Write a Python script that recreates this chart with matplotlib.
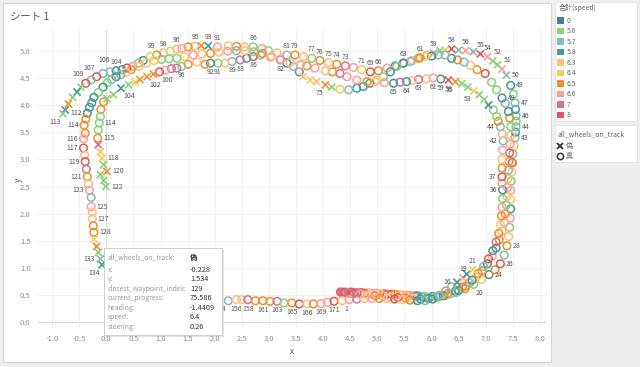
import matplotlib
matplotlib.use("Agg")
import matplotlib.pyplot as plt
from matplotlib.patches import Rectangle
from matplotlib.lines import Line2D

plt.rcParams['font.family'] = ['Noto Sans CJK JP', 'DejaVu Sans']

# speed legend (Tableau 10/20 palette)
speed_levels = [0, 5.6, 5.7, 5.8, 6.3, 6.4, 6.5, 6.6, 7, 8]
speed_labels = ['0', '5.6', '5.7', '5.8', '6.3', '6.4', '6.5', '6.6', '7', '8']
speed_colors = ['#4e79a7', '#8cd17d', '#86bcb6', '#499894', '#ffbe7d',
                '#f1ce63', '#f28e2b', '#ff9d9a', '#d37295', '#e15759']

# episodes: (x, y, speed, all_wheels_on_track[, waypoint label, label side])
ep1 = [
    (4.36, 0.55, 8, 1), (4.42, 0.55, 7, 1), (4.49, 0.55, 8, 1), (4.58, 0.55, 6.6, 1),
    (4.70, 0.55, 8, 1), (4.84, 0.55, 6.3, 1), (4.98, 0.54, 6.6, 1), (5.12, 0.53, 6.5, 1),
    (5.26, 0.52, 8, 1), (5.40, 0.51, 6.4, 1), (5.54, 0.50, 6.6, 1), (5.68, 0.49, 6.5, 1),
    (5.82, 0.47, 5.8, 1), (5.96, 0.46, 5.6, 1), (6.12, 0.47, 5.8, 1), (6.28, 0.50, 6.3, 1),
    (6.45, 0.55, 5.7, 1), (6.62, 0.62, 6.5, 1), (6.78, 0.70, 5.6, 1, '20', 'br'),
    (6.92, 0.79, 6.4, 1), (7.06, 0.88, 5.8, 1, '24', 'r'), (7.17, 0.97, 6.5, 1),
    (7.27, 1.08, 8, 1, '26', 'r'), (7.34, 1.24, 5.7, 1), (7.39, 1.41, 6.5, 1, '28', 'r'),
    (7.42, 1.58, 6.3, 1), (7.44, 1.75, 5.6, 1), (7.45, 1.92, 6.6, 1), (7.46, 2.09, 5.8, 1),
    (7.46, 2.26, 6.4, 1), (7.46, 2.43, 6.6, 1), (7.47, 2.60, 5.6, 1), (7.48, 2.77, 6.3, 1),
    (7.49, 2.94, 8, 1), (7.50, 3.10, 5.7, 1), (7.52, 3.25, 6.4, 1),
    (7.54, 3.40, 5.7, 1, '43', 'r'), (7.55, 3.50, 5.8, 1), (7.56, 3.60, 5.7, 1, '44', 'r'),
    (7.56, 3.70, 5.6, 1), (7.56, 3.80, 5.7, 1, '46', 'r'), (7.55, 3.92, 5.8, 1),
    (7.54, 4.04, 5.7, 1, '47', 'r'), (7.51, 4.20, 5.6, 1), (7.46, 4.36, 5.8, 1, '49', 'r'),
    (7.38, 4.55, 5.7, 0, '50', 'r'), (7.30, 4.66, 6.6, 0, '51', 'tr'), (7.22, 4.74, 5.6, 0),
    (7.13, 4.81, 5.6, 0, '52', 'tr'), (7.03, 4.89, 6.6, 0, '54', 't'), (6.90, 4.94, 8, 0, '55', 't'),
    (6.77, 4.98, 5.7, 0), (6.63, 5.00, 6.6, 0, '56', 't'), (6.50, 5.01, 5.7, 0),
    (6.37, 5.03, 8, 0, '58', 't'), (6.25, 5.01, 6.4, 0), (6.16, 5.00, 5.6, 0),
    (6.04, 4.96, 6.6, 0, '59', 't'), (5.92, 4.92, 6.3, 1), (5.79, 4.87, 6.5, 1, '61', 't'),
    (5.64, 4.82, 6.3, 1), (5.48, 4.77, 8, 1, '63', 't'), (5.33, 4.72, 5.8, 1),
    (5.18, 4.68, 6.6, 1), (5.02, 4.63, 6.5, 1, '66', 't'), (4.87, 4.61, 8, 1, '69', 't'),
    (4.71, 4.65, 6.4, 1, '71', 't'), (4.56, 4.69, 6.6, 1), (4.41, 4.72, 7, 1, '73', 't'),
    (4.25, 4.75, 6.5, 1, '74', 't'), (4.10, 4.78, 6.3, 1, '75', 't'), (3.94, 4.82, 6.5, 1, '76', 't'),
    (3.79, 4.86, 5.6, 1, '77', 't'), (3.64, 4.89, 6.3, 1), (3.48, 4.92, 6.5, 1, '79', 't'),
    (3.33, 4.92, 5.7, 1, '81', 't'), (3.15, 4.96, 6.3, 1), (2.99, 5.00, 5.6, 1),
    (2.87, 5.04, 6.6, 1), (2.71, 5.07, 5.6, 1, '86', 't'), (2.55, 5.07, 6.3, 1),
    (2.40, 5.08, 6.5, 1), (2.25, 5.09, 6.3, 1), (2.05, 5.07, 6.6, 1, '91', 't'),
    (1.88, 5.09, 5.8, 0, '93', 't'), (1.75, 5.09, 6.5, 0, '95', 'tl'), (1.63, 5.08, 6.3, 1),
    (1.51, 5.07, 6.5, 1), (1.39, 5.04, 6.6, 1), (1.30, 5.03, 6.3, 1, '96', 't'),
    (1.18, 4.99, 6.4, 1), (1.05, 4.96, 6.3, 1, '98', 't'), (0.93, 4.92, 6.5, 1, '99', 'tl'),
    (0.81, 4.89, 6.4, 1), (0.68, 4.82, 5.8, 1), (0.59, 4.77, 5.6, 1), (0.49, 4.71, 6.6, 1),
    (0.38, 4.68, 8, 1), (0.29, 4.65, 5.8, 1), (0.18, 4.63, 5.8, 1, '104', 't'),
    (0.07, 4.61, 5.7, 1), (-0.06, 4.58, 5.7, 1, '106', 'tt'), (-0.18, 4.52, 8, 1, '107', 'tl'),
    (-0.28, 4.46, 5.7, 1), (-0.38, 4.40, 8, 1, '109', 'tl'), (-0.47, 4.33, 5.6, 0),
    (-0.54, 4.24, 5.8, 0), (-0.62, 4.14, 5.6, 0), (-0.70, 4.02, 6.5, 0),
    (-0.76, 3.91, 5.8, 0), (-0.80, 3.84, 5.6, 0, '113', 'bl'),
]

ep2 = [
    (4.32, 0.56, 8, 1), (4.38, 0.56, 7, 1), (4.44, 0.56, 6.6, 1), (4.52, 0.56, 8, 1),
    (4.62, 0.55, 7, 1), (4.76, 0.54, 8, 1), (4.90, 0.53, 6.6, 1), (5.04, 0.53, 6.3, 1),
    (5.18, 0.52, 8, 1), (5.32, 0.52, 6.5, 1), (5.46, 0.51, 6.3, 1), (5.60, 0.50, 6.6, 1),
    (5.74, 0.49, 5.8, 1), (5.88, 0.48, 5.6, 1), (6.02, 0.48, 5.8, 1), (6.16, 0.50, 5.7, 1),
    (6.30, 0.53, 6.5, 1), (6.44, 0.58, 5.8, 1), (6.57, 0.65, 6.5, 1), (6.70, 0.73, 5.7, 1),
    (6.82, 0.83, 6.4, 1), (6.93, 0.95, 6.5, 1), (7.03, 1.08, 5.8, 1), (7.12, 1.22, 6.6, 1),
    (7.19, 1.37, 5.8, 1), (7.25, 1.52, 6.5, 1), (7.30, 1.68, 6.3, 1), (7.34, 1.84, 6.6, 1),
    (7.36, 2.00, 6.5, 1), (7.38, 2.16, 5.6, 1), (7.39, 2.32, 6.3, 1), (7.40, 2.48, 6.6, 1),
    (7.41, 2.64, 6.4, 1), (7.42, 2.80, 5.7, 1), (7.43, 2.96, 6.5, 1), (7.44, 3.12, 8, 1),
    (7.45, 3.28, 6.6, 1), (7.46, 3.44, 6.3, 1), (7.46, 3.60, 5.6, 1), (7.44, 3.76, 6.5, 1),
    (7.42, 3.88, 5.8, 1), (7.36, 4.03, 5.7, 1), (7.30, 4.13, 5.8, 1, '49', 'r'),
    (7.20, 4.28, 5.6, 1), (7.11, 4.42, 5.6, 1), (6.99, 4.58, 8, 1), (6.84, 4.65, 6.5, 1),
    (6.72, 4.73, 6.3, 1), (6.60, 4.79, 5.7, 1), (6.48, 4.83, 6.5, 1), (6.37, 4.86, 5.8, 1),
    (6.25, 4.92, 5.7, 1), (6.12, 4.92, 5.7, 1), (6.00, 4.90, 5.8, 1), (5.88, 4.89, 6.4, 1),
    (5.76, 4.86, 6.5, 1), (5.61, 4.80, 5.7, 1), (5.48, 4.77, 5.8, 1), (5.36, 4.71, 5.6, 1),
    (5.24, 4.61, 5.8, 1), (5.11, 4.52, 5.6, 1), (4.99, 4.46, 6.4, 1), (4.86, 4.40, 5.8, 1),
    (4.74, 4.34, 5.8, 1), (4.62, 4.31, 5.8, 1), (4.47, 4.28, 5.7, 1), (4.31, 4.29, 6.4, 1),
    (4.16, 4.33, 5.6, 0), (4.04, 4.37, 6.5, 0, '75', 'bl'), (3.88, 4.43, 6.3, 0),
    (3.76, 4.46, 6.4, 0), (3.63, 4.52, 6.3, 0), (3.56, 4.61, 5.8, 1), (3.45, 4.71, 5.7, 1),
    (3.33, 4.77, 5.8, 1), (3.21, 4.83, 7, 1, '82', 'b'), (3.03, 4.88, 6.6, 1),
    (2.85, 4.92, 5.7, 1), (2.71, 4.89, 8, 1, '86', 'b'), (2.59, 4.86, 5.8, 1),
    (2.47, 4.83, 7, 1, '88', 'b'), (2.32, 4.80, 5.7, 1, '89', 'b'), (2.19, 4.77, 6.3, 1),
    (2.06, 4.77, 5.6, 1, '91', 'b'), (1.92, 4.77, 5.8, 1, '92', 'b'), (1.82, 4.75, 6.5, 1),
    (1.67, 4.79, 6.3, 1), (1.51, 4.75, 6.5, 1), (1.39, 4.71, 5.6, 1, '96', 'b'),
    (1.30, 4.68, 7, 1), (1.20, 4.67, 7, 1), (1.09, 4.64, 6.6, 1), (0.98, 4.61, 8, 1, '100', 'br'),
    (0.87, 4.57, 6.5, 0), (0.75, 4.52, 6.5, 0, '102', 'br'), (0.62, 4.47, 6.5, 0),
    (0.53, 4.42, 6.4, 0), (0.41, 4.37, 5.6, 0), (0.27, 4.31, 5.8, 0, '104', 'br'),
    (0.13, 4.19, 5.6, 0), (0.01, 4.12, 5.6, 0), (-0.05, 4.06, 6.5, 1), (-0.10, 3.92, 6.5, 1),
    (-0.11, 3.79, 5.6, 1), (-0.13, 3.67, 5.6, 1, '114', 'r'), (-0.15, 3.54, 5.6, 1),
    (-0.16, 3.39, 6.5, 1, '115', 'r'), (-0.15, 3.27, 7, 0), (-0.11, 3.14, 6.4, 0),
    (-0.08, 3.02, 6.4, 0, '118', 'r'), (-0.05, 2.90, 5.6, 0), (0.01, 2.78, 6.5, 0, '120', 'r'),
    (-0.11, 2.72, 5.6, 0), (-0.05, 2.61, 5.6, 0), (-0.01, 2.50, 5.6, 0, '122', 'r'),
]

ep3 = [
    (4.34, 0.55, 7, 1), (4.40, 0.55, 8, 1), (4.47, 0.54, 7, 1), (4.56, 0.53, 8, 1),
    (4.68, 0.52, 6.6, 1), (4.82, 0.50, 6.3, 1), (4.96, 0.49, 6.5, 1), (5.10, 0.48, 6.6, 1),
    (5.24, 0.47, 6.3, 1), (5.38, 0.46, 8, 1), (5.52, 0.45, 6.5, 1), (5.66, 0.44, 6.3, 1),
    (5.80, 0.43, 5.8, 1), (5.94, 0.44, 5.8, 1), (6.08, 0.46, 5.6, 1), (6.22, 0.49, 5.8, 1),
    (6.36, 0.53, 5.7, 1), (6.50, 0.59, 5.8, 1), (6.63, 0.67, 6.5, 1), (6.75, 0.78, 5.8, 1),
    (6.86, 0.90, 6.5, 1), (6.96, 1.03, 5.7, 1), (7.05, 1.17, 8, 1), (7.13, 1.32, 5.8, 1),
    (7.19, 1.48, 7, 1), (7.24, 1.64, 6.5, 1), (7.27, 1.80, 6.4, 1), (7.29, 1.96, 6.5, 1),
    (7.30, 2.12, 6.6, 1), (7.31, 2.28, 5.6, 1), (7.31, 2.44, 5.8, 1, '36', 'l'),
    (7.30, 2.56, 6.6, 1), (7.30, 2.68, 8, 1, '37', 'l'), (7.30, 2.84, 6.5, 1),
    (7.30, 3.00, 6.3, 1), (7.31, 3.17, 6.6, 1), (7.32, 3.34, 5.7, 1, '42', 'l'),
    (7.30, 3.47, 6.3, 1), (7.27, 3.60, 5.7, 1, '44', 'l'), (7.23, 3.70, 6.5, 1),
    (7.20, 3.79, 5.6, 1), (7.14, 3.91, 5.6, 1), (7.05, 4.00, 5.8, 0), (6.97, 4.10, 5.6, 0),
    (6.88, 4.19, 5.6, 0), (6.78, 4.26, 6.4, 0, '53', 'bl'), (6.67, 4.33, 5.6, 0),
    (6.56, 4.39, 5.6, 0), (6.44, 4.43, 6.5, 0, '55', 'bl'), (6.31, 4.46, 8, 0, '58', 'b'),
    (6.17, 4.48, 5.8, 1, '59', 'b'), (6.03, 4.50, 6.6, 1, '61', 'b'), (5.90, 4.48, 6.3, 1),
    (5.76, 4.47, 7, 1, '63', 'b'), (5.65, 4.45, 6.3, 1), (5.54, 4.43, 5.8, 1, '64', 'b'),
    (5.42, 4.42, 7, 1), (5.30, 4.40, 5.8, 1, '65', 'b'), (5.13, 4.41, 6.6, 1),
    (4.96, 4.43, 6.3, 1), (4.81, 4.43, 6.5, 1), (4.62, 4.46, 6.6, 1), (4.44, 4.52, 6.6, 1),
    (4.31, 4.58, 7, 1), (4.17, 4.61, 6.5, 1), (4.04, 4.63, 6.3, 1), (3.85, 4.68, 6.6, 1),
    (3.70, 4.72, 6.5, 1), (3.58, 4.74, 6.6, 1), (3.39, 4.78, 6.3, 1), (3.22, 4.84, 6.6, 1),
    (3.05, 4.90, 6.3, 1), (2.88, 4.95, 6.5, 1), (2.72, 4.98, 5.6, 1), (2.56, 5.00, 6.3, 1),
    (2.40, 5.00, 5.7, 1), (2.24, 4.99, 6.6, 1), (2.08, 4.97, 6.3, 1), (1.92, 4.95, 6.5, 1),
    (1.76, 4.94, 6.3, 1), (1.60, 4.92, 6.6, 1), (1.44, 4.89, 6.4, 1), (1.30, 4.86, 5.6, 1),
    (1.16, 4.85, 5.6, 1), (1.02, 4.84, 5.6, 1), (0.88, 4.82, 6.4, 1), (0.74, 4.77, 6.3, 1),
    (0.60, 4.71, 6.3, 1), (0.46, 4.65, 6.5, 1), (0.36, 4.60, 6.3, 1), (0.27, 4.56, 5.7, 1),
    (0.18, 4.52, 5.8, 1), (0.10, 4.47, 5.7, 1), (0.02, 4.41, 5.6, 1), (-0.06, 4.33, 5.8, 1),
    (-0.15, 4.23, 5.6, 1), (-0.23, 4.14, 5.8, 1), (-0.27, 4.04, 5.8, 1), (-0.31, 3.96, 5.8, 1),
    (-0.35, 3.85, 5.8, 1, '112', 'l'), (-0.38, 3.74, 6.5, 1), (-0.41, 3.63, 6.5, 1, '114', 'l'),
    (-0.39, 3.48, 6.5, 1), (-0.42, 3.38, 6.6, 1, '116', 'l'), (-0.42, 3.21, 8, 1, '117', 'l'),
    (-0.40, 3.08, 6.3, 1), (-0.39, 2.96, 8, 1, '119', 'l'), (-0.37, 2.82, 7, 1),
    (-0.35, 2.68, 6.5, 1, '121', 'l'), (-0.33, 2.55, 6.3, 1), (-0.31, 2.43, 6.6, 1, '123', 'l'),
    (-0.28, 2.30, 5.7, 1), (-0.28, 2.13, 6.6, 1, '125', 'r'), (-0.26, 2.03, 6.3, 1),
    (-0.26, 1.91, 6.3, 1, '127', 'r'), (-0.24, 1.78, 6.5, 1), (-0.23, 1.66, 6.5, 1, '128', 'r'),
    (-0.228, 1.534, 6.4, 0), (-0.18, 1.40, 6.5, 0), (-0.15, 1.29, 5.6, 0),
    (-0.11, 1.17, 5.7, 0, '133', 'l'), (-0.08, 1.06, 5.8, 0, '134', 'bl'),
]

ep4 = [
    (2.25, 0.40, 5.7, 1, '154', 'bl'), (2.40, 0.42, 6.3, 1, '156', 'b'), (2.50, 0.42, 6.3, 1),
    (2.61, 0.42, 7, 1, '158', 'b'), (2.75, 0.40, 6.5, 1), (2.89, 0.40, 6.5, 1, '161', 'b'),
    (3.02, 0.39, 6.5, 1), (3.15, 0.39, 7, 1, '163', 'b'), (3.28, 0.36, 5.6, 1),
    (3.42, 0.36, 6.5, 1, '165', 'b'), (3.56, 0.34, 8, 1), (3.70, 0.34, 6.3, 1, '166', 'b'),
    (3.82, 0.34, 6.5, 1), (3.96, 0.35, 6.6, 1, '169', 'b'), (4.08, 0.37, 6.6, 1),
    (4.20, 0.39, 8, 1, '171', 'b'), (4.35, 0.40, 6.4, 1, '1', 'br'), (4.48, 0.42, 6.6, 1),
    (4.62, 0.43, 7, 1), (4.76, 0.44, 6.3, 1), (4.90, 0.44, 6.6, 1), (5.04, 0.44, 6.5, 1),
    (5.18, 0.44, 6.3, 1), (5.32, 0.43, 8, 1), (5.46, 0.42, 6.3, 1), (5.60, 0.41, 6.5, 1),
    (5.74, 0.40, 5.8, 1), (5.88, 0.40, 5.7, 1), (6.02, 0.43, 5.8, 1), (6.14, 0.50, 5.7, 1),
    (6.26, 0.58, 6.5, 1), (6.37, 0.66, 5.7, 1), (6.47, 0.74, 5.8, 0, '16', 'l'),
    (6.58, 0.82, 6.6, 0, '19', 't'), (6.65, 0.89, 5.8, 0), (6.76, 0.97, 6.4, 0, '21', 't'),
]

episodes = [ep1, ep2, ep3, ep4]

# hovered mark tooltip
tip_title = 'all_wheels_on_track:'
tip_title_value = '偽'
tip_fields = ['x:', 'y:', 'closest_waypoint_index:', 'current_progress:',
              'heading:', 'speed:', 'steering:']
tip_values = ['-0.228', '1.534', '129', '75.586', '-1.4409', '6.4', '0.26']

W, H = 640, 367


def fx(px):
    return px / W


def fy(py):
    return 1 - py / H


label_offsets = {
    't': ((0, 3.5), 'center', 'bottom'),
    'tt': ((1, 7), 'center', 'bottom'),
    'b': ((0, -3.5), 'center', 'top'),
    'l': ((-4, 0), 'right', 'center'),
    'r': ((4, 0), 'left', 'center'),
    'tl': ((-1, 3.5), 'right', 'bottom'),
    'tr': ((1, 3.5), 'left', 'bottom'),
    'bl': ((-1.5, -3), 'right', 'top'),
    'br': ((1.5, -3), 'left', 'top'),
}

color_of = dict(zip(speed_levels, speed_colors))

fig = plt.figure(figsize=(6.4, 3.67), dpi=100, facecolor='#f0f0f0')

# sheet panel
fig.add_artist(Rectangle((fx(3), fy(362)), fx(548), 359 / H, transform=fig.transFigure,
                         facecolor='white', edgecolor='#d6d6d6', lw=0.8, zorder=-5))
fig.text(fx(10), fy(17), 'シート 1', fontsize=7.5, color='#555555', va='center')

ax = fig.add_axes([fx(37.5), fy(329), (547 - 37.5) / W, (329 - 30) / H])
ax.set_facecolor('white')

for ep in episodes:
    for on, marker in ((1, 'o'), (0, 'x')):
        pts = [r for r in ep if r[3] == on]
        xs = [r[0] for r in pts]
        ys = [r[1] for r in pts]
        cols = [color_of[r[2]] for r in pts]
        if marker == 'o':
            ax.scatter(xs, ys, s=30, facecolors='none', edgecolors=cols,
                       linewidths=1.1, zorder=3)
        else:
            ax.scatter(xs, ys, s=26, c=cols, marker='x', linewidths=1.2, zorder=3)
    for r in ep:
        if len(r) > 4:
            off, ha, va = label_offsets[r[5]]
            ax.annotate(r[4], (r[0], r[1]), xytext=off, textcoords='offset points',
                        ha=ha, va=va, fontsize=5, color='#555555', zorder=4)

ax.set_xlim(-1.27, 8.13)
ax.set_ylim(-0.12, 5.38)
ax.set_xticks([i * 0.5 - 1 for i in range(19)])
ax.set_yticks([i * 0.5 for i in range(11)])
ax.set_xticklabels(['%.1f' % (i * 0.5 - 1) for i in range(19)])
ax.set_yticklabels(['%.1f' % (i * 0.5) for i in range(11)])
ax.tick_params(length=0, labelsize=5.5, labelcolor='#8c8c8c')
ax.tick_params(axis='x', pad=4)
ax.tick_params(axis='y', pad=5)
ax.grid(True, color='#efefef', lw=0.6)
ax.set_axisbelow(True)
ax.axhline(0, color='#c4c4c4', lw=0.8, ls=(0, (1, 1.5)), zorder=1)
ax.axvline(0, color='#c4c4c4', lw=0.8, ls=(0, (1, 1.5)), zorder=1)
for s in ax.spines.values():
    s.set_visible(False)

fig.text(fx(292), fy(351), 'x', fontsize=6, color='#555555', ha='center', va='center')
fig.text(fx(18), fy(180), 'y', fontsize=6, color='#555555', ha='center', va='center',
         rotation=90)

# tooltip
fig.add_artist(Rectangle((fx(105.5), fy(336.5)), 118 / W, 87 / H, transform=fig.transFigure,
                         facecolor='#b0b0b0', edgecolor='none', alpha=0.35, zorder=8))
fig.add_artist(Rectangle((fx(104), fy(335)), 118 / W, 87 / H, transform=fig.transFigure,
                         facecolor='white', edgecolor='#c8c8c8', lw=0.6, zorder=9))
fig.text(fx(107.5), fy(257.5), tip_title, fontsize=4.9, color='#9a9a9a', va='center', zorder=10)
fig.text(fx(190), fy(257.5), tip_title_value, fontsize=5.3, color='#333333', va='center',
         fontweight='bold', zorder=10)
for i, (k, v) in enumerate(zip(tip_fields, tip_values)):
    yy = 270 + i * 9.45
    fig.text(fx(107.5), fy(yy), k, fontsize=4.9, color='#9a9a9a', va='center', zorder=10)
    fig.text(fx(190), fy(yy), v, fontsize=5.3, color='#333333', va='center', zorder=10)

# colour legend
fig.add_artist(Rectangle((fx(555), fy(121)), 82 / W, 119 / H, transform=fig.transFigure,
                         facecolor='white', edgecolor='#e2e2e2', lw=0.6, zorder=2))
fig.text(fx(559), fy(8.5), '合計(speed)', fontsize=5, color='#666666', va='center', zorder=3)
for i, (lab, col) in enumerate(zip(speed_labels, speed_colors)):
    yy = 20.7 + i * 10.48
    fig.add_artist(Rectangle((fx(557), fy(yy + 3.3)), 6.6 / W, 6.6 / H,
                             transform=fig.transFigure, facecolor=col, edgecolor='none',
                             zorder=3))
    fig.text(fx(567), fy(yy), lab, fontsize=5, color='#666666', va='center', zorder=3)

# shape legend
fig.add_artist(Rectangle((fx(555), fy(162)), 82 / W, 37 / H, transform=fig.transFigure,
                         facecolor='white', edgecolor='#e2e2e2', lw=0.6, zorder=2))
fig.text(fx(558), fy(134), 'all_wheels_on_track', fontsize=5, color='#666666', va='center',
         zorder=3)
fig.add_artist(Line2D([fx(560)], [fy(146)], marker='x', markersize=4.2, color='#333333',
                      markeredgewidth=1.3, transform=fig.transFigure, zorder=3))
fig.add_artist(Line2D([fx(560)], [fy(156)], marker='o', markersize=4.5, color='#333333',
                      markerfacecolor='none', markeredgewidth=1.1,
                      transform=fig.transFigure, zorder=3))
fig.text(fx(566), fy(146), '偽', fontsize=5, color='#666666', va='center', zorder=3)
fig.text(fx(566), fy(156), '真', fontsize=5, color='#666666', va='center', zorder=3)

fig.savefig('out.png', dpi=100, facecolor=fig.get_facecolor())
